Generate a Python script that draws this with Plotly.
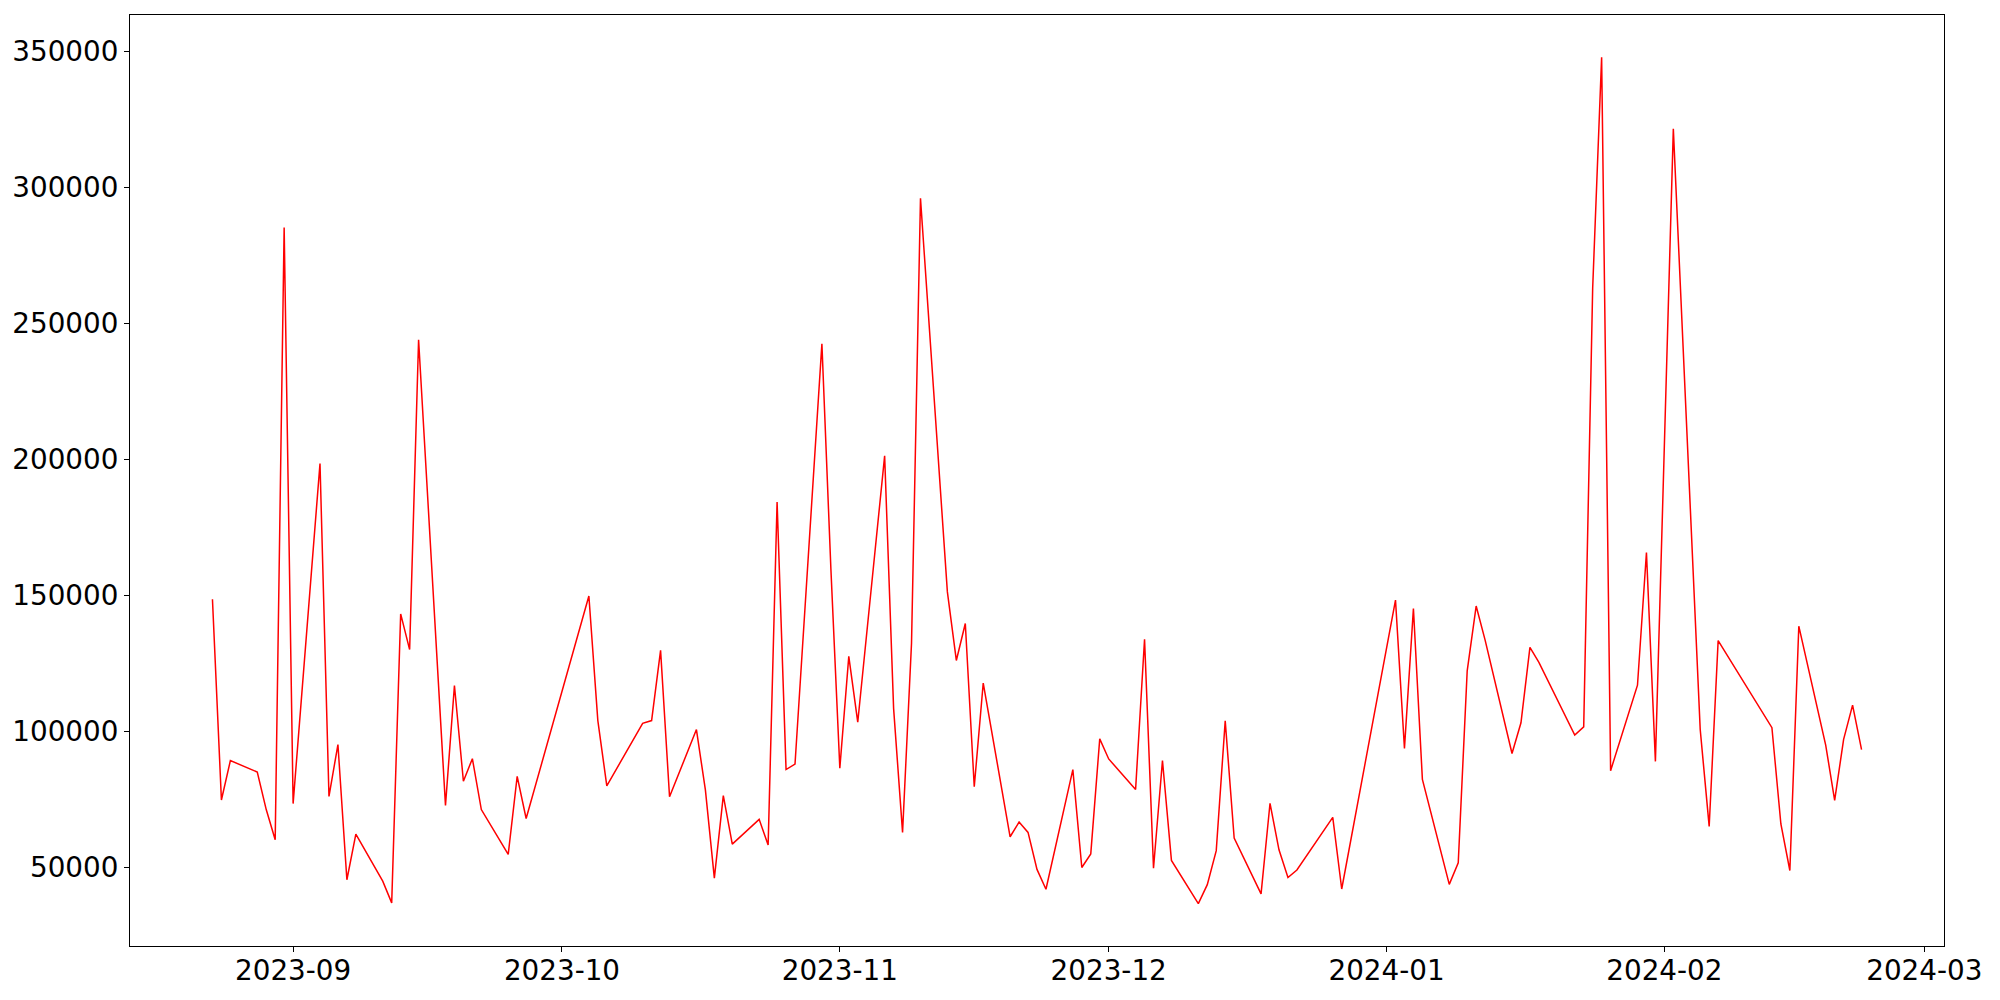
import pandas as pd
import plotly.graph_objects as go

# daily values, trading days only
dates = [
    "2023-08-23", "2023-08-24", "2023-08-25", "2023-08-28", "2023-08-29", "2023-08-30", "2023-08-31",
    "2023-09-01", "2023-09-04", "2023-09-05", "2023-09-06", "2023-09-07", "2023-09-08", "2023-09-11",
    "2023-09-12", "2023-09-13", "2023-09-14", "2023-09-15", "2023-09-18", "2023-09-19", "2023-09-20",
    "2023-09-21", "2023-09-22", "2023-09-25", "2023-09-26", "2023-09-27", "2023-10-04", "2023-10-05",
    "2023-10-06", "2023-10-10", "2023-10-11", "2023-10-12", "2023-10-13", "2023-10-16", "2023-10-17",
    "2023-10-18", "2023-10-19", "2023-10-20", "2023-10-23", "2023-10-24", "2023-10-25", "2023-10-26",
    "2023-10-27", "2023-10-30", "2023-10-31", "2023-11-01", "2023-11-02", "2023-11-03", "2023-11-06",
    "2023-11-07", "2023-11-08", "2023-11-09", "2023-11-10", "2023-11-13", "2023-11-14", "2023-11-15",
    "2023-11-16", "2023-11-17", "2023-11-20", "2023-11-21", "2023-11-22", "2023-11-23", "2023-11-24",
    "2023-11-27", "2023-11-28", "2023-11-29", "2023-11-30", "2023-12-01", "2023-12-04", "2023-12-05",
    "2023-12-06", "2023-12-07", "2023-12-08", "2023-12-11", "2023-12-12", "2023-12-13", "2023-12-14",
    "2023-12-15", "2023-12-18", "2023-12-19", "2023-12-20", "2023-12-21", "2023-12-22", "2023-12-26",
    "2023-12-27", "2024-01-02", "2024-01-03", "2024-01-04", "2024-01-05", "2024-01-08", "2024-01-09",
    "2024-01-10", "2024-01-11", "2024-01-12", "2024-01-15", "2024-01-16", "2024-01-17", "2024-01-18",
    "2024-01-22", "2024-01-23", "2024-01-24", "2024-01-25", "2024-01-26", "2024-01-29", "2024-01-30",
    "2024-01-31", "2024-02-02", "2024-02-05", "2024-02-06", "2024-02-07", "2024-02-13", "2024-02-14",
    "2024-02-15", "2024-02-16", "2024-02-19", "2024-02-20", "2024-02-21", "2024-02-22", "2024-02-23",
]

values = [
    148600, 74800, 89300, 85100, 71300, 60200, 285200,
    73500, 198500, 76100, 95200, 45500, 62300, 45000,
    37000, 143200, 130100, 244000, 72800, 116900, 81700,
    90000, 71300, 54800, 83500, 68000, 149800, 104000,
    80000, 103000, 104000, 129800, 76000, 100700, 78500,
    46100, 76400, 58600, 67700, 58300, 184300, 86000,
    88000, 242500, 160000, 86500, 127600, 103400, 201300,
    108500, 62900, 132500, 296000, 151300, 126100, 139700,
    79700, 117800, 61300, 66700, 62900, 49300, 42000,
    86000, 50000, 55000, 97300, 89900, 78700, 133900,
    49700, 89300, 52600, 36700, 43700, 56200, 103900,
    60800, 40300, 73600, 56500, 46300, 49100, 68400,
    42100, 148300, 93800, 145200, 82400, 43800, 51700,
    122300, 146100, 133600, 91900, 103200, 130900, 125400,
    98700, 101700, 262900, 347800, 85600, 117000, 165800,
    89000, 321500, 100700, 65100, 133400, 101400, 66000,
    48900, 138700, 95000, 74700, 97100, 109700, 93300,
]

x = pd.to_datetime(dates)

# matplotlib-like 5% padding
x_pad = (x.max() - x.min()) * 0.05
y_pad = (max(values) - min(values)) * 0.05
x_range = [x.min() - x_pad, x.max() + x_pad]
y_range = [min(values) - y_pad, max(values) + y_pad]

font_family = "DejaVu Sans"
tick_font = dict(size=27.8, color="black", family=font_family)

fig = go.Figure()

fig.add_trace(go.Scatter(
    x=x,
    y=values,
    mode="lines",
    line=dict(color="red", width=1.5),
    showlegend=False,
))

# page body adds 8px, so figure is 1992x992
fig.update_layout(
    width=1992,
    height=992,
    margin=dict(l=122, r=56, t=7, b=54),
    paper_bgcolor="white",
    plot_bgcolor="white",
    xaxis=dict(
        range=x_range,
        type="date",
        tick0="2023-09-01",
        dtick="M1",
        tickformat="%Y-%m",
        ticks="outside",
        ticklen=5,
        tickwidth=1,
        tickcolor="black",
        ticklabelstandoff=-5,
        showline=True,
        linecolor="black",
        linewidth=1,
        mirror=True,
        showgrid=False,
        zeroline=False,
        tickfont=tick_font,
        automargin=False,
    ),
    yaxis=dict(
        range=y_range,
        tick0=0,
        dtick=50000,
        tickformat="d",
        ticks="outside",
        ticklen=5,
        tickwidth=1,
        tickcolor="black",
        showline=True,
        linecolor="black",
        linewidth=1,
        mirror=True,
        showgrid=False,
        zeroline=False,
        tickfont=tick_font,
        automargin=False,
    ),
)

fig.write_html("out.html")
